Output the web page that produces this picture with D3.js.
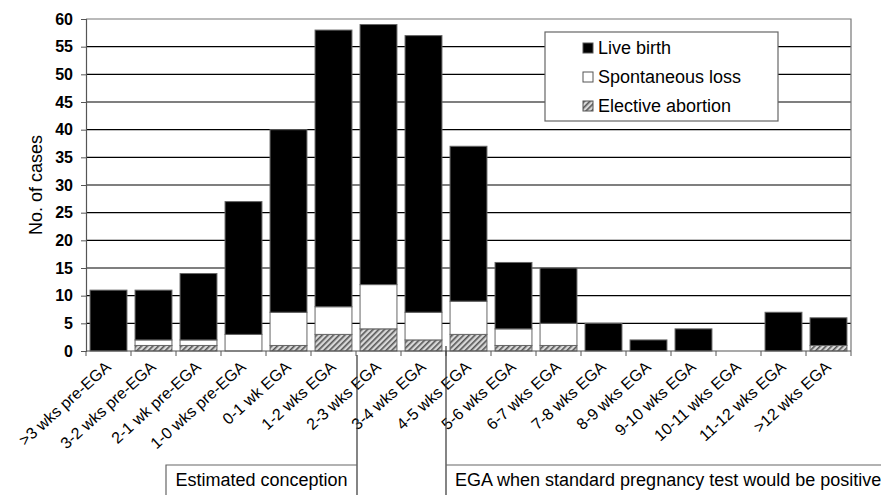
<!DOCTYPE html>
<html>
<head>
<meta charset="utf-8">
<script src="https://cdn.jsdelivr.net/npm/d3@7"></script>
<style>
  body { margin: 0; background: #fff; }
  svg { font-family: "Liberation Sans", Arial, sans-serif; }
</style>
</head>
<body>
<div id="chart"></div>
<script>
const categories = ['>3 wks pre-EGA', '3-2 wks pre-EGA', '2-1 wk pre-EGA', '1-0 wks pre-EGA',
  '0-1 wk EGA', '1-2 wks EGA', '2-3 wks EGA', '3-4 wks EGA', '4-5 wks EGA', '5-6 wks EGA',
  '6-7 wks EGA', '7-8 wks EGA', '8-9 wks EGA', '9-10 wks EGA', '10-11 wks EGA', '11-12 wks EGA', '>12 wks EGA'];
const elective = [0, 1, 1, 0, 1, 3, 4, 2, 3, 1, 1, 0, 0, 0, 0, 0, 1];
const spontaneous = [0, 1, 1, 3, 6, 5, 8, 5, 6, 3, 4, 0, 0, 0, 0, 0, 0];
const liveBirth = [11, 9, 12, 24, 33, 50, 47, 50, 28, 12, 10, 5, 2, 4, 0, 7, 5];
const yTicks = d3.range(0, 61, 5);
const seriesNames = ['Live birth', 'Spontaneous loss', 'Elective abortion'];

const width = 881, height = 495;
const margin = { left: 86, right: 30, top: 19, bottom: 144 };

const svg = d3.select('#chart').append('svg').attr('width', width).attr('height', height);

// hatch pattern for elective abortion
const defs = svg.append('defs');
const hatch = defs.append('pattern').attr('id', 'hatch')
  .attr('patternUnits', 'userSpaceOnUse').attr('width', 4).attr('height', 4)
  .attr('patternTransform', 'rotate(-45)');
hatch.append('rect').attr('width', 4).attr('height', 4).attr('fill', '#d8d8d8');
hatch.append('rect').attr('width', 4).attr('height', 1.6).attr('fill', '#555');

const x = d3.scaleBand().domain(categories)
  .range([margin.left, width - margin.right]).paddingInner(0.18).paddingOuter(0.09);
const y = d3.scaleLinear().domain([0, 60]).range([height - margin.bottom, margin.top]);

// gridlines
svg.append('g').selectAll('line').data(yTicks.filter(d => d > 0 && d < 60)).enter().append('line')
  .attr('x1', margin.left).attr('x2', width - margin.right)
  .attr('y1', d => y(d)).attr('y2', d => y(d))
  .attr('stroke', '#000').attr('stroke-width', 1.2);

// plot border (top, right)
svg.append('path')
  .attr('d', `M${margin.left},${y(60)}H${width - margin.right}V${y(0)}`)
  .attr('fill', 'none').attr('stroke', '#777').attr('stroke-width', 1.2);

// stacked bars
const rows = categories.map((c, i) => ({ cat: c, e: elective[i], s: spontaneous[i], l: liveBirth[i] }));
const stack = d3.stack().keys(['e', 's', 'l'])(rows);
const fills = { e: 'url(#hatch)', s: '#fff', l: '#000' };
svg.append('g').selectAll('g').data(stack).enter().append('g')
  .attr('fill', d => fills[d.key])
  .selectAll('rect').data(d => d.filter(p => p[1] - p[0] > 0)).enter().append('rect')
  .attr('x', d => x(d.data.cat))
  .attr('width', x.bandwidth())
  .attr('y', d => y(d[1]))
  .attr('height', d => y(d[0]) - y(d[1]))
  .attr('stroke', '#666').attr('stroke-width', 1);

// y axis
const yAxis = d3.axisLeft(y).tickValues(yTicks).tickSize(5).tickPadding(8);
const gy = svg.append('g').attr('transform', `translate(${margin.left},0)`).call(yAxis);
gy.select('.domain').attr('stroke', '#555').attr('stroke-width', 1.2);
gy.selectAll('.tick line').attr('stroke', '#555');
gy.selectAll('text').attr('font-size', 16).attr('font-weight', 'bold').attr('fill', '#000')
  .attr('font-family', '"Liberation Sans", Arial, sans-serif');

// x axis line and ticks at band boundaries
const step = x.step();
const bounds = categories.map(c => x(c) - step * 0.09).concat([width - margin.right]);
svg.append('line').attr('x1', margin.left).attr('x2', width - margin.right)
  .attr('y1', y(0)).attr('y2', y(0)).attr('stroke', '#555').attr('stroke-width', 1.2);
svg.append('g').selectAll('line').data(bounds).enter().append('line')
  .attr('x1', d => d).attr('x2', d => d).attr('y1', y(0)).attr('y2', y(0) + 5)
  .attr('stroke', '#555');

// category labels
svg.append('g').selectAll('text').data(categories).enter().append('text')
  .attr('transform', d => `translate(${x(d) + x.bandwidth() / 2 - 4},${y(0) + 9}) rotate(-42)`)
  .attr('text-anchor', 'end').attr('dy', '0.7em')
  .attr('font-size', 16).text(d => d);

// y title
svg.append('text').attr('transform', `translate(42,${(y(0) + y(60)) / 2}) rotate(-90)`)
  .attr('text-anchor', 'middle').attr('font-size', 18).text('No. of cases');

// legend
const lg = svg.append('g');
lg.append('rect').attr('x', 545).attr('y', 32).attr('width', 233).attr('height', 89)
  .attr('fill', '#fff').attr('stroke', '#666').attr('stroke-width', 1.2);
const legFills = ['#000', '#fff', 'url(#hatch)'];
seriesNames.forEach((n, i) => {
  const cy = 48 + i * 29;
  lg.append('rect').attr('x', 583).attr('y', cy - 5).attr('width', 10).attr('height', 10)
    .attr('fill', legFills[i]).attr('stroke', '#555');
  lg.append('text').attr('x', 598).attr('y', cy).attr('dy', '0.36em')
    .attr('font-size', 18).text(n);
});

// bottom annotation boxes
const b1 = bounds[6] + 1, b2 = bounds[8];
svg.append('line').attr('x1', b1).attr('x2', b1).attr('y1', y(0) + 4).attr('y2', height)
  .attr('stroke', '#333').attr('stroke-width', 1.2);
svg.append('line').attr('x1', b2).attr('x2', b2).attr('y1', y(0) - 5).attr('y2', height)
  .attr('stroke', '#333').attr('stroke-width', 1.2);
svg.append('path').attr('d', `M166,${height}V465H${b1}`)
  .attr('fill', 'none').attr('stroke', '#666').attr('stroke-width', 1.2);
svg.append('path').attr('d', `M${b2},465H${width}`)
  .attr('fill', 'none').attr('stroke', '#666').attr('stroke-width', 1.2);
svg.append('text').attr('x', (166 + b1) / 2).attr('y', 486).attr('text-anchor', 'middle')
  .attr('font-size', 18).text('Estimated conception');
svg.append('text').attr('x', b2 + 9).attr('y', 486)
  .attr('font-size', 18).text('EGA when standard pregnancy test would be positive');
</script>
</body>
</html>
